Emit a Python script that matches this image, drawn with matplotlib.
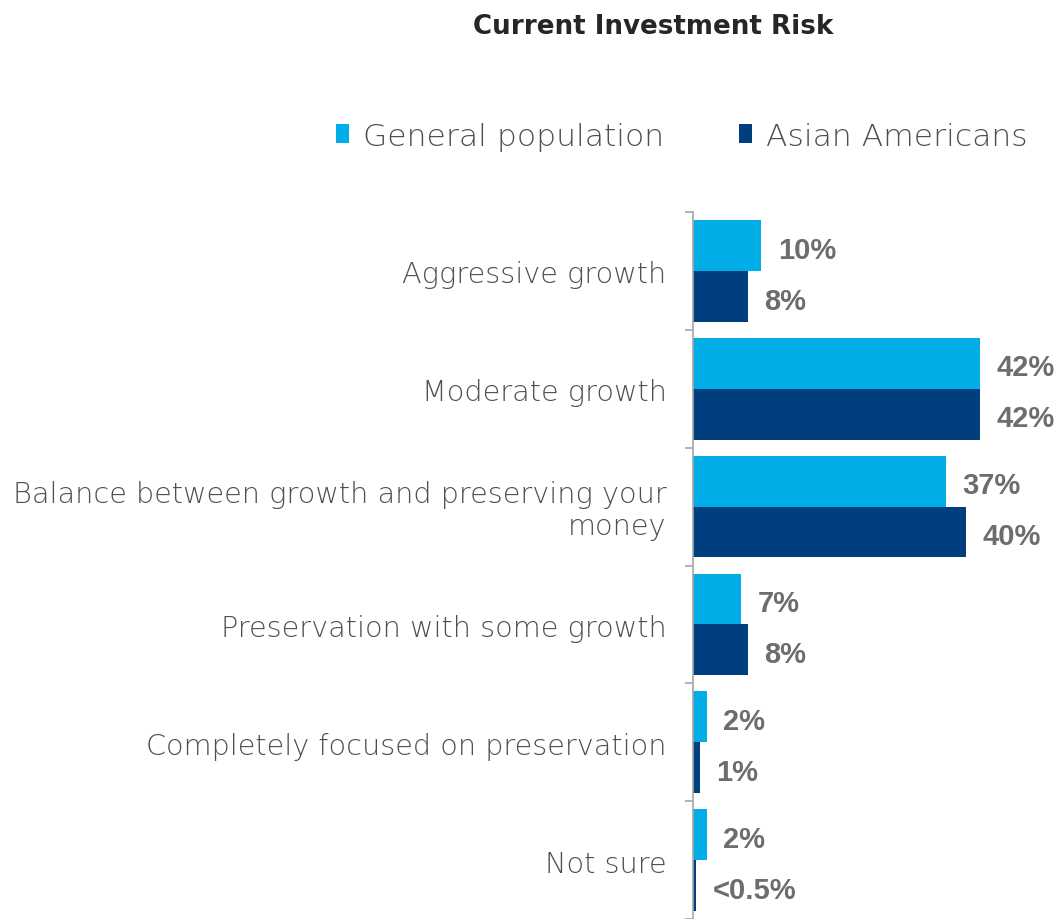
import matplotlib.pyplot as plt
from matplotlib.patches import Patch

categories = [
    "Aggressive growth",
    "Moderate growth",
    "Balance between growth and preserving your\nmoney",
    "Preservation with some growth",
    "Completely focused on preservation",
    "Not sure",
]
general_pop = [10, 42, 37, 7, 2, 2]
asian_am = [8, 42, 40, 8, 1, 0.5]
general_labels = ["10%", "42%", "37%", "7%", "2%", "2%"]
asian_labels = ["8%", "42%", "40%", "8%", "1%", "<0.5%"]
series_names = ["General population", "Asian Americans"]

LIGHT = "#00ADE6"
DARK = "#003E7E"
TEXT_GRAY = "#4F4F4F"
VALUE_GRAY = "#6D6D6D"

W, H = 1059, 920
fig = plt.figure(figsize=(W / 100, H / 100), dpi=100)
# axes: left spine at x=693px, top at y=213px, 6.83 px per percent
ax = fig.add_axes([693 / W, 0, 50 * 6.83 / W, (H - 213) / H])

bar_h = 0.432
ypos = list(range(len(categories)))
ax.barh([y - bar_h / 2 for y in ypos], general_pop, height=bar_h, color=LIGHT)
ax.barh([y + bar_h / 2 for y in ypos], asian_am, height=bar_h, color=DARK)

ax.set_xlim(0, 50)
ax.set_ylim(len(categories) - 0.5, -0.5)

for sp in ["top", "right", "bottom"]:
    ax.spines[sp].set_visible(False)
ax.spines["left"].set_color("#A6A6A6")
ax.spines["left"].set_linewidth(1.2)
ax.set_xticks([])
ax.set_yticks([y - 0.5 for y in range(len(categories) + 1)])
ax.set_yticklabels([])
ax.tick_params(axis="y", length=6, width=1.2, color="#A6A6A6", direction="out")

for y, name in zip(ypos, categories):
    ax.annotate(name, xy=(0, y), xytext=(-19, -2.5), textcoords="offset points",
                ha="right", va="center", fontsize=20.7, color=TEXT_GRAY,
                fontweight=200, linespacing=1.22, annotation_clip=False)

for y, v, lab in zip(ypos, general_pop, general_labels):
    ax.annotate(lab, xy=(v, y - bar_h / 2), xytext=(12, -3), textcoords="offset points",
                ha="left", va="center", fontsize=21, fontweight="bold",
                color=VALUE_GRAY, family="Liberation Sans", annotation_clip=False)
for y, v, lab in zip(ypos, asian_am, asian_labels):
    ax.annotate(lab, xy=(v, y + bar_h / 2), xytext=(12, -3), textcoords="offset points",
                ha="left", va="center", fontsize=21, fontweight="bold",
                color=VALUE_GRAY, family="Liberation Sans", annotation_clip=False)

fig.text(653 / W, 1 - 27 / H, "Current Investment Risk", ha="center", va="center",
         fontsize=18.8, fontweight="bold", color="#262626")

handles = [Patch(facecolor=LIGHT), Patch(facecolor=DARK)]
leg = fig.legend(handles, series_names, loc="center", bbox_to_anchor=(682 / W, 1 - 137 / H),
                 ncol=2, frameon=False, fontsize=22.6, handlelength=0.4, handleheight=0.55,
                 handletextpad=0.45, columnspacing=2.4)
for t in leg.get_texts():
    t.set_color(TEXT_GRAY)
    t.set_fontweight(200)

fig.savefig("out.png", dpi=100)
